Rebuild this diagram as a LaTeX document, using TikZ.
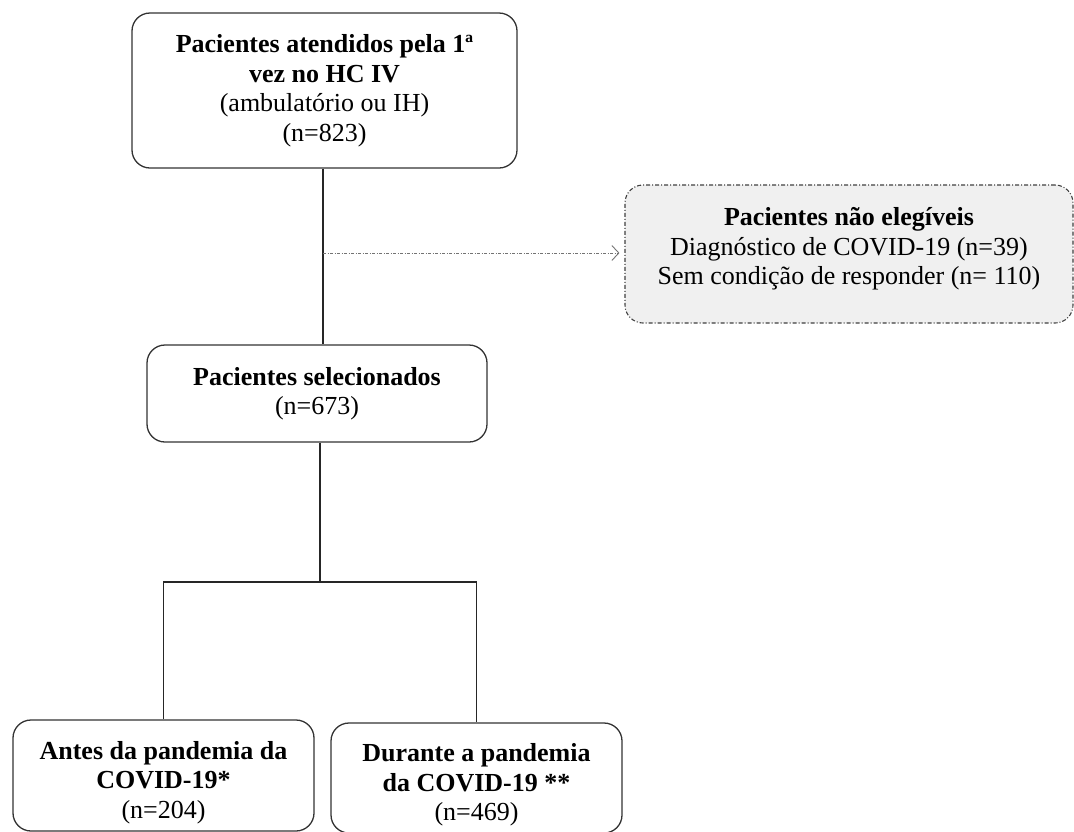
\documentclass[tikz,border=0pt]{standalone}
\usepackage{fontspec}
\setmainfont{Liberation Serif}
\usetikzlibrary{arrows.meta}
\begin{document}
\begin{tikzpicture}[x=1pt,y=-1pt,
  font=\fontsize{26}{29.5}\selectfont,
  box/.style={draw=black!80, line width=1.3pt, rounded corners=18pt, align=center, inner sep=0pt},
  exclbox/.style={draw=black!75, line width=1.1pt, rounded corners=18pt, align=center, inner sep=0pt,
    fill=black!6, dash pattern=on 4pt off 2pt on 1pt off 2pt},
  link/.style={draw=black!85, line width=1.2pt},
  exclarrow/.style={draw=black!55, line width=0.9pt, dash pattern=on 3pt off 1.5pt on 1pt off 1.5pt,
    -{Straight Barb[length=7pt,width=15pt,line width=0.9pt]}, shorten >=5pt}]
\useasboundingbox (0,0) rectangle (1074,831);

\node[box, minimum width=385pt, minimum height=155pt] (top) at (324.5,90.5)
  {\textbf{Pacientes atendidos pela 1ª}\\\textbf{vez no HC IV}\\(ambulatório ou IH)\\(n=823)};

\node[exclbox, minimum width=448pt, minimum height=138pt] (nel) at (849,254)
  {\textbf{Pacientes não elegíveis}\\Diagnóstico de COVID-19 (n=39)\\Sem condição de responder (n= 110)\\[-14pt]\mbox{}};

\node[box, minimum width=340pt, minimum height=97pt] (sel) at (317,393.5)
  {\textbf{Pacientes selecionados}\\(n=673)};

\node[box, minimum width=301pt, minimum height=111pt] (ante) at (163.5,775.5)
  {\rule{0pt}{32pt}\textbf{Antes da pandemia da}\\\textbf{COVID-19*}\\(n=204)};

\node[box, minimum width=291pt, minimum height=110pt] (dur) at (476.5,778)
  {\rule{0pt}{32pt}\textbf{Durante a pandemia}\\\textbf{da COVID-19 **}\\(n=469)};

\coordinate (j1) at (323,253);
\coordinate (split) at (320,582);

\draw[link] (top.south -| j1) -- (sel.north -| j1);
\draw[exclarrow] (j1) -- (nel.west |- j1);
\draw[link] (sel.south -| split) -- (split);
\draw[link] (ante.north) |- (split) -| (dur.north);
\end{tikzpicture}
\end{document}
